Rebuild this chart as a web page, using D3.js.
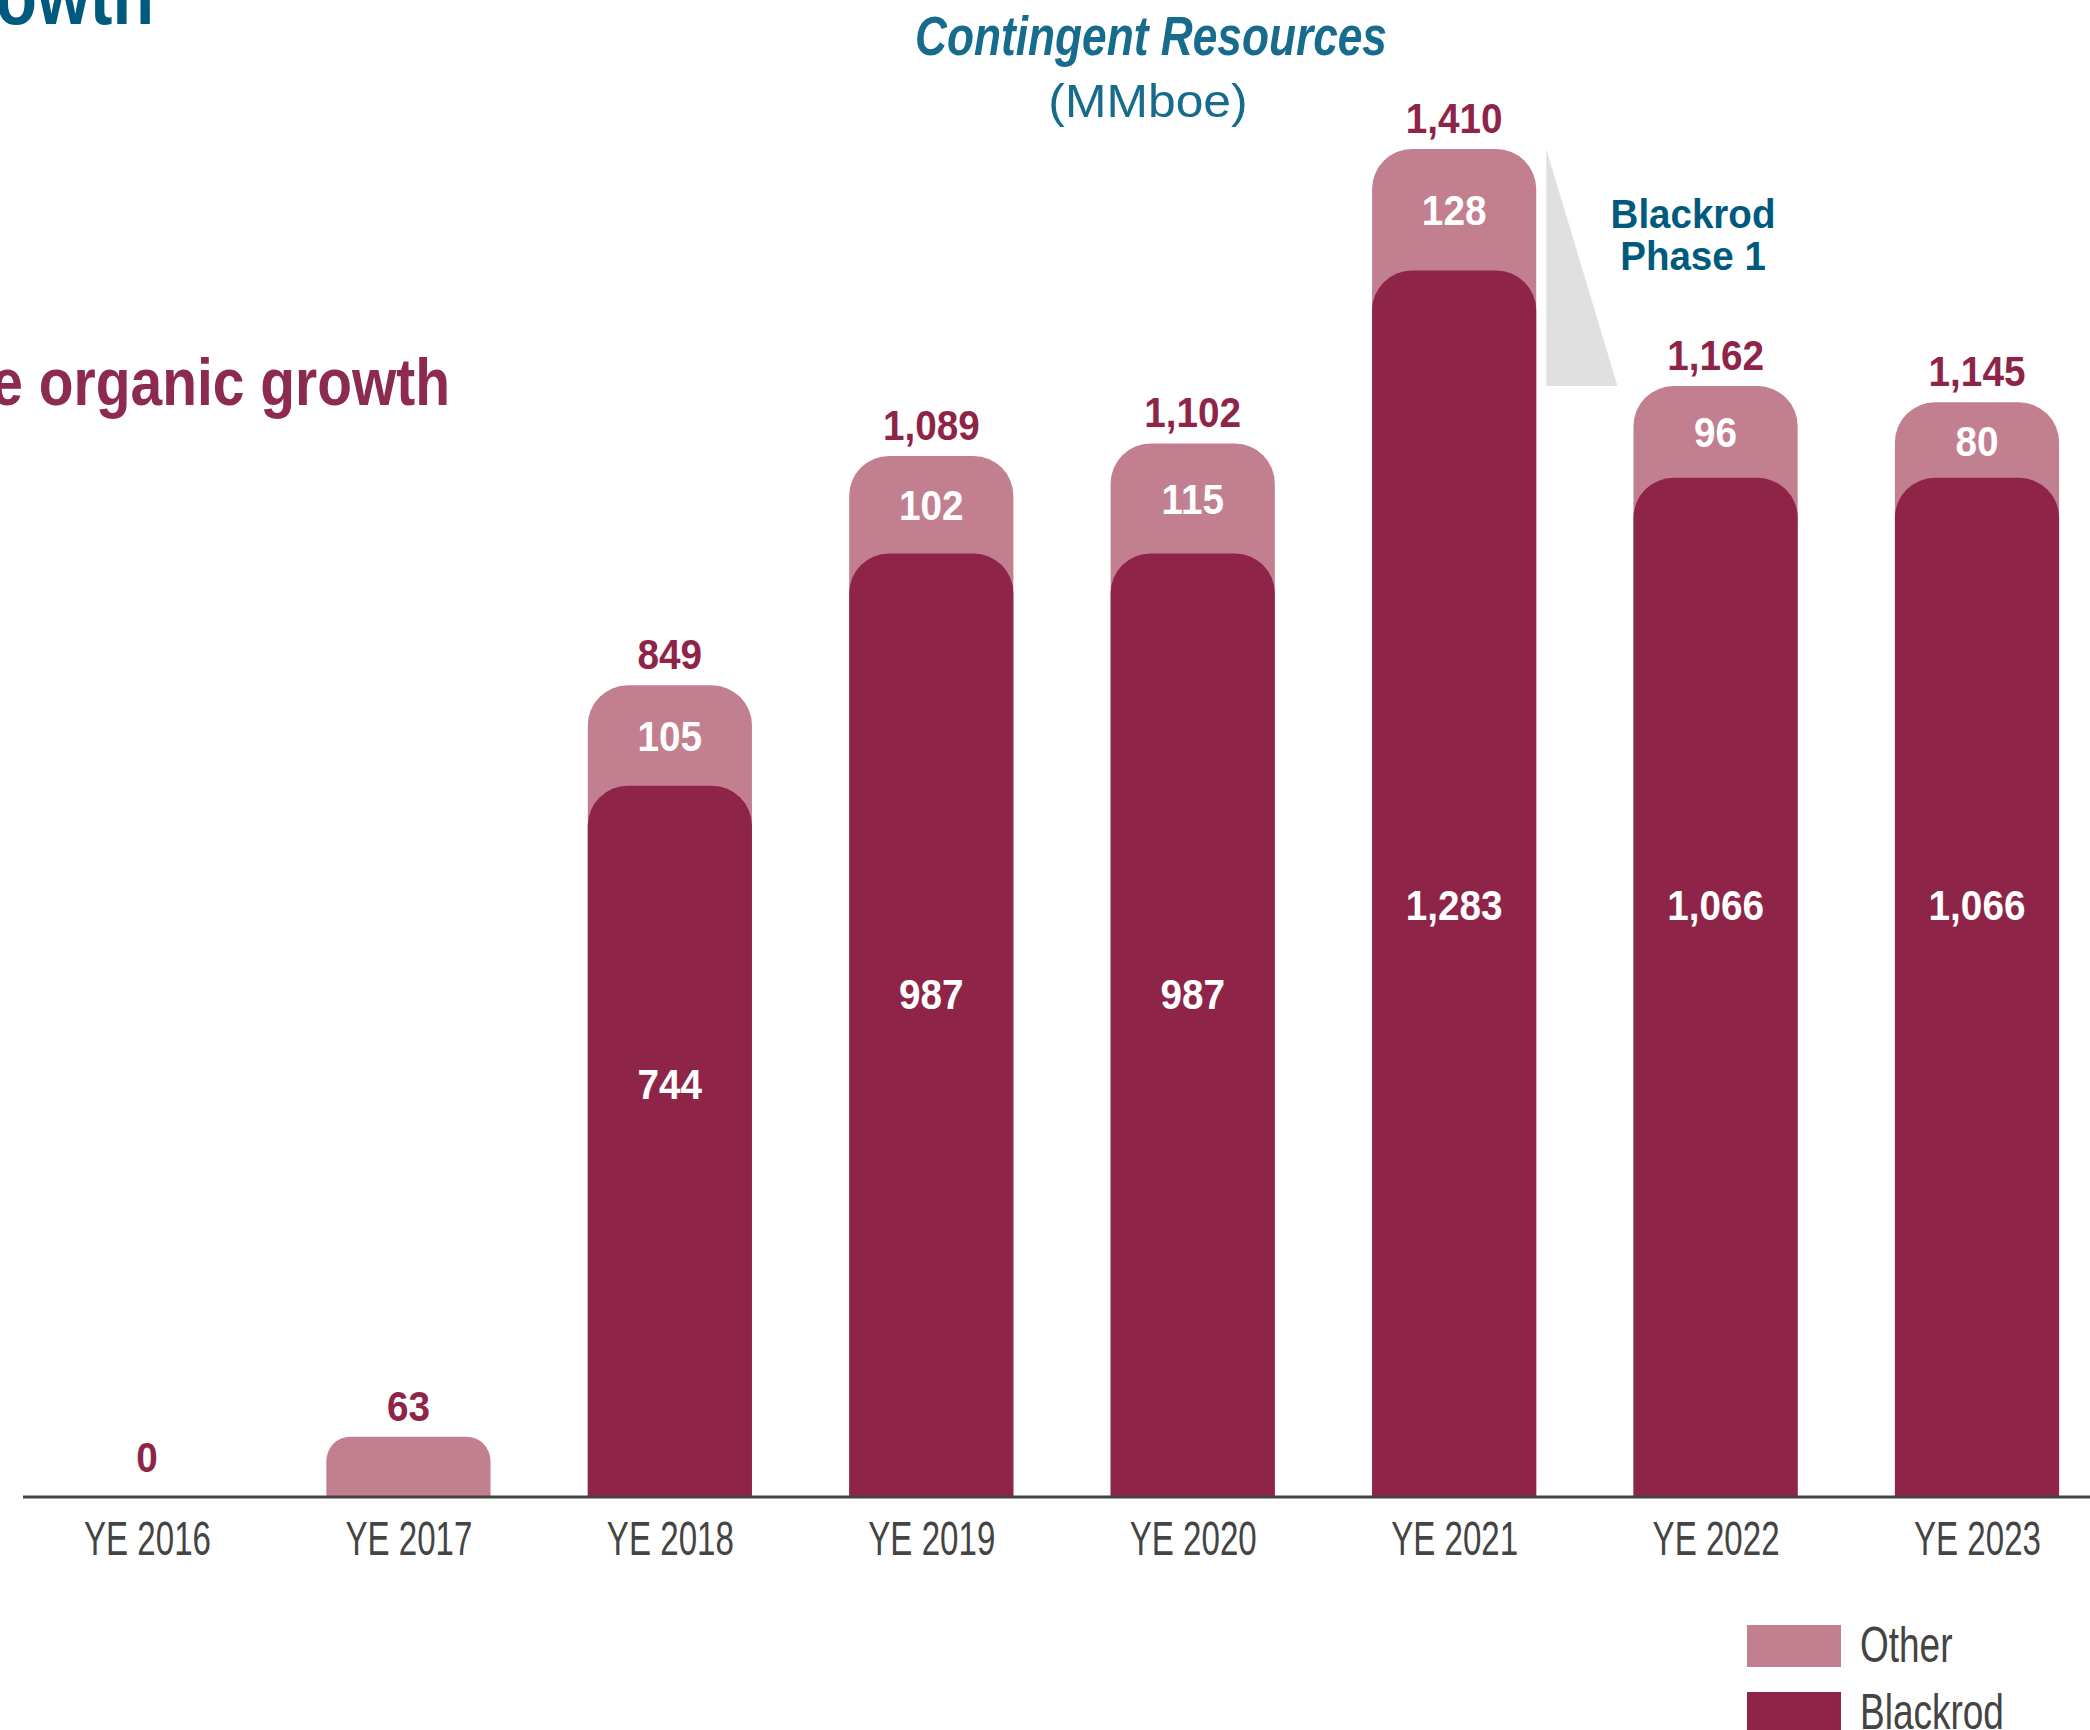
<!DOCTYPE html>
<html>
<head>
<meta charset="utf-8">
<script src="https://cdn.jsdelivr.net/npm/d3@7"></script>
<style>
  html, body { margin: 0; padding: 0; background: #fff; }
  svg { display: block; }
  text { font-family: "Liberation Sans", Arial, "Roboto", sans-serif; }
</style>
</head>
<body>
<svg id="chart" width="2090" height="1730"></svg>
<script>
// ---------- data ----------
const categories = ["YE 2016", "YE 2017", "YE 2018", "YE 2019", "YE 2020", "YE 2021", "YE 2022", "YE 2023"];
const blackrod   = [0, 0, 744, 987, 987, 1283, 1066, 1066];
const other      = [0, 63, 105, 102, 115, 128, 96, 80];
const totals     = [0, 63, 849, 1089, 1102, 1410, 1162, 1145];
const seriesNames = ["Other", "Blackrod"];

// ---------- layout ----------
const W = 2090, H = 1730;
const baseY = 1497, topY = 149;
const colBlack = "#8F2449", colOther = "#C27F8F";
const teal = "#176B8C", darkTeal = "#005A7D";
const gray = "#444";

const svg = d3.select("#chart");

const x = d3.scalePoint().domain(categories).range([147, 1977]);
const barW = x.step() * 0.628;
const y = d3.scaleLinear().domain([0, d3.max(totals)]).range([baseY, topY]);

// inner label anchor (data units) for blackrod values
const innerAnchor = v => v >= 1066 ? 620 : (v >= 987 ? 527 : 432);

function roundTop(x0, y0, w, h, r) {
  r = Math.min(r, h * 0.4, w / 2);
  return `M${x0},${y0 + h}V${y0 + r}A${r},${r} 0 0 1 ${x0 + r},${y0}H${x0 + w - r}A${r},${r} 0 0 1 ${x0 + w},${y0 + r}V${y0 + h}Z`;
}

// condensed text helper: horizontal squeeze via transform
function ctext(parent, px, py, txt, o) {
  return parent.append("text")
    .attr("transform", `translate(${px},${py}) scale(${o.sx || 1},1)`)
    .attr("text-anchor", o.anchor || "middle")
    .attr("font-size", o.size)
    .attr("font-weight", o.weight || "normal")
    .attr("font-style", o.style || "normal")
    .attr("fill", o.fill)
    .attr("dy", o.dy || null)
    .text(txt);
}

const rows = categories.map((c, i) => ({ c, b: blackrod[i], o: other[i], t: totals[i] }));

// titles
ctext(svg, 154, 24, "growth", { size: 80, weight: "bold", fill: darkTeal, anchor: "end", sx: 0.85 });
ctext(svg, 450, 405, "Sustainable organic growth", { size: 67, weight: "bold", fill: "#8C2A4F", anchor: "end", sx: 0.85 });

ctext(svg, 1151, 55, "Contingent Resources", { size: 56, weight: "bold", style: "italic", fill: teal, sx: 0.79 });
ctext(svg, 1148, 117, "(MMboe)", { size: 47, fill: teal, sx: 1.06 });

// wedge between 2021 and 2022
const i21 = categories.indexOf("YE 2021"), i22 = categories.indexOf("YE 2022");
const wx0 = x(categories[i21]) + barW / 2 + 10;
const wx1 = x(categories[i22]) - barW / 2 - 16;
svg.append("path")
  .attr("d", `M${wx0},${y(totals[i21])}L${wx0},${y(totals[i22])}L${wx1},${y(totals[i22])}Z`)
  .attr("fill", "#E0E0E0");
const ph = ctext(svg, 1693, 228, "", { size: 41, weight: "bold", fill: darkTeal, sx: 0.94 });
ph.append("tspan").attr("x", 0).attr("y", 0).text("Blackrod");
ph.append("tspan").attr("x", 0).attr("y", 42).text("Phase 1");

// bars: other (full height, behind)
svg.append("g").selectAll("path").data(rows.filter(d => d.t > 0)).join("path")
  .attr("d", d => roundTop(x(d.c) - barW / 2, y(d.t), barW, baseY - y(d.t), 40))
  .attr("fill", colOther);
// blackrod (front)
svg.append("g").selectAll("path").data(rows.filter(d => d.b > 0)).join("path")
  .attr("d", d => roundTop(x(d.c) - barW / 2, y(d.b), barW, baseY - y(d.b), 40))
  .attr("fill", colBlack);

// axis
const axis = svg.append("g").attr("transform", `translate(0,${baseY})`)
  .call(d3.axisBottom(x).tickSize(0).tickPadding(0));
axis.select(".domain").remove();
axis.selectAll(".tick text")
  .attr("font-family", '"Liberation Sans", Arial, sans-serif')
  .attr("font-size", 48).attr("fill", gray)
  .attr("y", 58).attr("dy", 0)
  .attr("transform", "scale(0.69,1)");
svg.append("line").attr("x1", 23).attr("x2", W).attr("y1", baseY).attr("y2", baseY)
  .attr("stroke", gray).attr("stroke-width", 3);

// total labels
const fmt = d3.format(",");
const gt = svg.append("g");
rows.forEach(d => ctext(gt, x(d.c), y(d.t) - (d.t === 0 ? 25 : 16), fmt(d.t),
  { size: 43, weight: "bold", fill: colBlack, sx: 0.9 }));

// other inner labels
const go = svg.append("g");
rows.filter(d => d.b > 0).forEach(d => ctext(go, x(d.c), (y(d.t) + y(d.b)) / 2, fmt(d.o),
  { size: 43, weight: "bold", fill: "#fff", sx: 0.9, dy: "0.36em" }));

// blackrod inner labels
const gb = svg.append("g");
rows.filter(d => d.b > 0).forEach(d => ctext(gb, x(d.c), y(innerAnchor(d.b)), fmt(d.b),
  { size: 43, weight: "bold", fill: "#fff", sx: 0.9, dy: "0.36em" }));

// legend
const legend = svg.append("g").selectAll("g").data(seriesNames).join("g")
  .attr("transform", (d, i) => `translate(1747,${1625 + i * 67})`);
legend.append("rect").attr("width", 94).attr("height", 42)
  .attr("fill", d => d === "Other" ? colOther : colBlack);
legend.each(function (d) {
  ctext(d3.select(this), 113, 37, d, { size: 50, fill: gray, anchor: "start", sx: 0.74 });
});
</script>
</body>
</html>
